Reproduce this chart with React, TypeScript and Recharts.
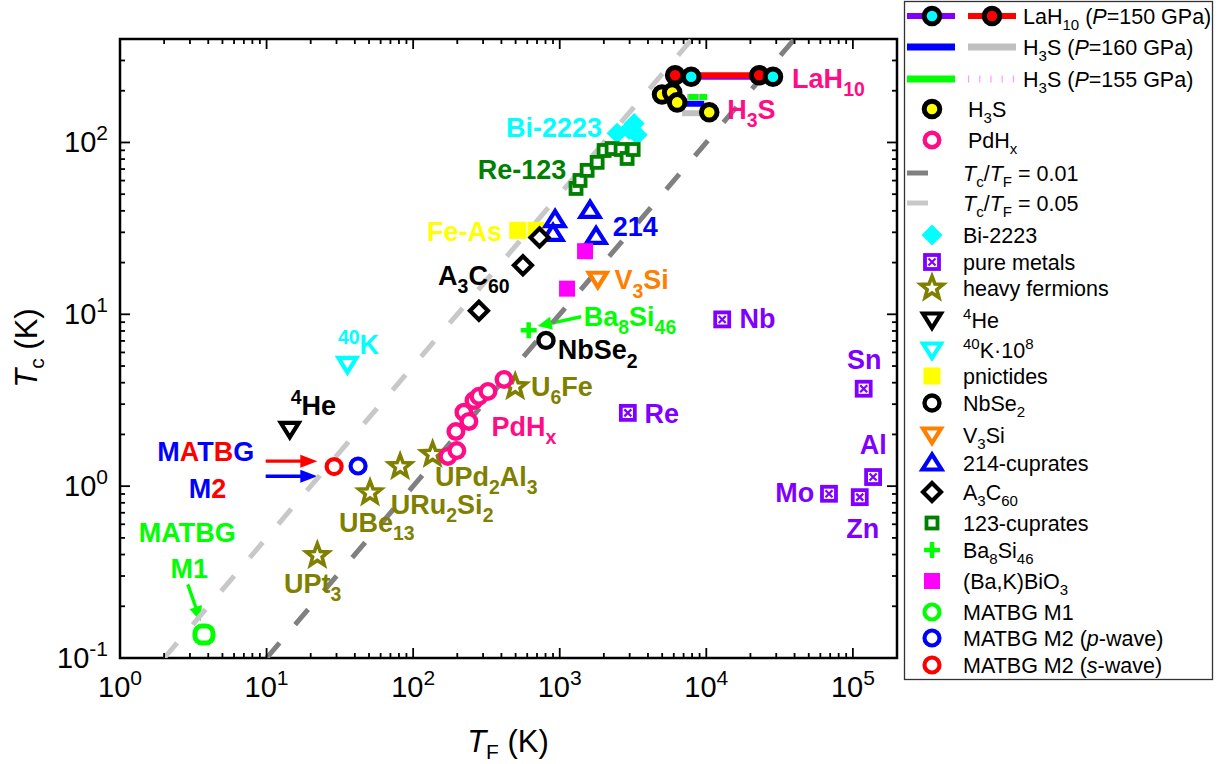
import React from 'react'
import { ScatterChart, Scatter, XAxis, YAxis, ReferenceLine, ReferenceArea } from 'recharts'

type Pt = { tf: number; tc: number }
type Seg = { t: string; s?: 'sub' | 'sup'; i?: boolean; c?: string }

// ---- data: Fermi temperature T_F (K) vs critical temperature T_c (K) ----
const LAH10_RED: Pt[] = [{ tf: 6130, tc: 246 }, { tf: 22960, tc: 246 }]
const LAH10_CYAN: Pt[] = [{ tf: 7890, tc: 241 }, { tf: 28500, tc: 241 }]
const H3S_160_BLUE: Pt[] = [{ tf: 7060, tc: 168 }, { tf: 9680, tc: 168 }]
const H3S_160_GREY: Pt[] = [{ tf: 6840, tc: 148 }, { tf: 9370, tc: 148 }]
const H3S_155_GREEN: Pt[] = [{ tf: 7410, tc: 184 }, { tf: 10140, tc: 184 }]
const H3S_155_PINK: Pt[] = [{ tf: 7410, tc: 184 }, { tf: 10140, tc: 184 }]
const H3S: Pt[] = [
  { tf: 4990, tc: 190 }, { tf: 5850, tc: 195 }, { tf: 6330, tc: 171 }, { tf: 10470, tc: 150 },
]
const RATIO_001: Pt[] = [{ tf: 10, tc: 0.1 }, { tf: 40000, tc: 400 }]
const RATIO_005: Pt[] = [{ tf: 2, tc: 0.1 }, { tf: 8000, tc: 400 }]
const BI2223: Pt[] = [
  { tf: 2462, tc: 113 }, { tf: 2974, tc: 119 }, { tf: 3220, tc: 129 }, { tf: 3375, tc: 111 },
]
const CUPRATES_123: Pt[] = [
  { tf: 1292, tc: 54 }, { tf: 1376, tc: 60.1 }, { tf: 1538, tc: 68.8 }, { tf: 1800, tc: 76.6 },
  { tf: 2008, tc: 89.8 }, { tf: 2277, tc: 92.2 }, { tf: 2622, tc: 91 }, { tf: 2882, tc: 80.7 },
  { tf: 3170, tc: 91 },
]
const PNICTIDES: Pt[] = [{ tf: 517, tc: 30.8 }, { tf: 689, tc: 30.8 }]
const CUPRATES_214: Pt[] = [
  { tf: 929, tc: 35.6 }, { tf: 900, tc: 29.6 }, { tf: 1610, tc: 40.3 }, { tf: 1770, tc: 28.4 },
]
const A3C60: Pt[] = [{ tf: 728, tc: 28 }, { tf: 561, tc: 19.3 }, { tf: 281, tc: 10.5 }]
const BKBO: Pt[] = [{ tf: 1489, tc: 23.3 }, { tf: 1122, tc: 14.1 }]
const V3SI: Pt[] = [{ tf: 1819, tc: 16 }]
const BA8SI46: Pt[] = [{ tf: 614, tc: 8.09 }]
const NBSE2: Pt[] = [{ tf: 806, tc: 7.05 }]
const HEAVY_FERMIONS: Pt[] = [
  { tf: 22.2, tc: 0.395 }, { tf: 50.8, tc: 0.915 }, { tf: 81.5, tc: 1.3 },
  { tf: 135.8, tc: 1.53 }, { tf: 497, tc: 3.79 },
]
const PDHX: Pt[] = [
  { tf: 172.6, tc: 1.49 }, { tf: 198.7, tc: 1.61 }, { tf: 195.8, tc: 2.08 }, { tf: 222, tc: 2.69 },
  { tf: 240, tc: 2.38 }, { tf: 260, tc: 3.15 }, { tf: 281, tc: 3.33 }, { tf: 324, tc: 3.56 },
  { tf: 417, tc: 4.18 },
]
const HE4: Pt[] = [{ tf: 14.4, tc: 2.14 }]
const K40: Pt[] = [{ tf: 35.6, tc: 5.11 }]
const PURE_METALS: Pt[] = [
  { tf: 12840, tc: 9.34 }, { tf: 2915, tc: 2.67 }, { tf: 118500, tc: 3.69 },
  { tf: 137400, tc: 1.13 }, { tf: 68700, tc: 0.903 }, { tf: 111400, tc: 0.863 },
]
const MATBG_M1: Pt[] = [{ tf: 3.74, tc: 0.137 }]
const MATBG_M2_P: Pt[] = [{ tf: 42.1, tc: 1.31 }]
const MATBG_M2_S: Pt[] = [{ tf: 28.9, tc: 1.3 }]

// axes
const X_DOMAIN = [1, 200000]
const Y_DOMAIN = [0.1, 400]
const X_DECADES = [1, 10, 100, 1000, 10000, 100000]
const X_EXPONENTS = ['0', '1', '2', '3', '4', '5']
const Y_DECADES = [0.1, 1, 10, 100]
const Y_EXPONENTS = ['-1', '0', '1', '2']
const MINOR_STEPS = [2, 3, 4, 5, 6, 7, 8, 9]

const W = 1222
const H = 764
const MARGIN = { top: 39, right: 325, bottom: 46, left: 60 }
const PLOT_TOP = MARGIN.top
const PLOT_RIGHT = W - MARGIN.right

const RED = '#ff0000'
const CYAN = '#00ffff'
const PURPLE = '#8000ff'
const BLUE = '#0000ff'
const GREY = '#c0c0c0'
const GREEN = '#00ff00'
const PINK = '#ff0d86'
const YELLOW = '#ffff00'
const OLIVE = '#808000'
const DKGREEN = '#008000'
const MAGENTA = '#ff00ff'
const ORANGE = '#ff8000'
const DASH_DARK = '#808080'
const DASH_LIGHT = '#c8c8c8'

const SANS = "'Liberation Sans', Arial, Helvetica, sans-serif"
const NARROW = "'Liberation Sans Narrow', 'Liberation Sans', Arial, sans-serif"

const X_TICKS = X_DECADES.flatMap(d => [d, ...MINOR_STEPS.map(m => m * d)]).filter(v => v < X_DOMAIN[1])
const Y_TICKS = Y_DECADES.flatMap(d => [d, ...MINOR_STEPS.map(m => m * d)]).filter(v => v < Y_DOMAIN[1])

// text labels inside the plot, anchored in data space
const MATBG_MULTI: Seg[] = [
  { t: 'M', c: BLUE }, { t: 'A', c: RED }, { t: 'T', c: BLUE }, { t: 'B', c: RED }, { t: 'G', c: BLUE },
]
const ANNOTATIONS = [
  { tf: 38500, tc: 207, color: PINK, parts: [{ t: 'LaH' }, { t: '10', s: 'sub' }] },
  { tf: 13900, tc: 136.7, color: PINK, parts: [{ t: 'H' }, { t: '3', s: 'sub' }, { t: 'S' }] },
  { tf: 430, tc: 108, color: CYAN, parts: [{ t: 'Bi-2223' }] },
  { tf: 1109, tc: 61, color: DKGREEN, parts: [{ t: 'Re-123' }], anchor: 'end' },
  { tf: 404, tc: 26.8, color: YELLOW, parts: [{ t: 'Fe-As' }], anchor: 'end' },
  { tf: 2297, tc: 28.7, color: BLUE, parts: [{ t: '214' }] },
  { tf: 148, tc: 14.9, color: '#000', parts: [{ t: 'A' }, { t: '3', s: 'sub' }, { t: 'C' }, { t: '60', s: 'sub' }] },
  { tf: 2360, tc: 13.96, color: ORANGE, parts: [{ t: 'V' }, { t: '3', s: 'sub' }, { t: 'Si' }] },
  { tf: 1459, tc: 8.54, color: GREEN, parts: [{ t: 'Ba' }, { t: '8', s: 'sub' }, { t: 'Si' }, { t: '46', s: 'sub' }] },
  { tf: 969, tc: 5.46, color: '#000', parts: [{ t: 'NbSe' }, { t: '2', s: 'sub' }] },
  { tf: 16860, tc: 8.28, color: PURPLE, parts: [{ t: 'Nb' }] },
  { tf: 91200, tc: 4.78, color: PURPLE, parts: [{ t: 'Sn' }] },
  { tf: 3784, tc: 2.34, color: PURPLE, parts: [{ t: 'Re' }] },
  { tf: 111400, tc: 1.53, color: PURPLE, parts: [{ t: 'Al' }] },
  { tf: 29560, tc: 0.807, color: PURPLE, parts: [{ t: 'Mo' }] },
  { tf: 90100, tc: 0.502, color: PURPLE, parts: [{ t: 'Zn' }] },
  { tf: 637, tc: 3.34, color: OLIVE, parts: [{ t: 'U' }, { t: '6', s: 'sub' }, { t: 'Fe' }] },
  { tf: 343, tc: 1.95, color: PINK, parts: [{ t: 'PdH' }, { t: 'x', s: 'sub' }] },
  { tf: 141, tc: 1.0, color: OLIVE, parts: [{ t: 'UPd' }, { t: '2', s: 'sub' }, { t: 'Al' }, { t: '3', s: 'sub' }] },
  { tf: 70.4, tc: 0.685, color: OLIVE, parts: [{ t: 'URu' }, { t: '2', s: 'sub' }, { t: 'Si' }, { t: '2', s: 'sub' }] },
  { tf: 31.2, tc: 0.54, color: OLIVE, parts: [{ t: 'UBe' }, { t: '13', s: 'sub' }] },
  { tf: 13.15, tc: 0.2395, color: OLIVE, parts: [{ t: 'UPt' }, { t: '3', s: 'sub' }] },
  { tf: 14.6, tc: 2.61, color: '#000', parts: [{ t: '4', s: 'sup' }, { t: 'He' }] },
  { tf: 30.7, tc: 5.84, color: CYAN, parts: [{ t: '40', s: 'sup' }, { t: 'K' }] },
  { tf: 1.795, tc: 1.398, color: BLUE, parts: MATBG_MULTI },
  { tf: 2.95, tc: 0.856, color: BLUE, parts: [{ t: 'M', c: BLUE }, { t: '2', c: RED }] },
  { tf: 1.344, tc: 0.475, color: GREEN, parts: [{ t: 'MATBG' }] },
  { tf: 2.213, tc: 0.293, color: GREEN, parts: [{ t: 'M1' }] },
]

const ARROWS = [
  { from: { tf: 9.86, tc: 1.398 }, to: { tf: 22.2, tc: 1.398 }, color: RED, head: 17 },
  { from: { tf: 9.86, tc: 1.143 }, to: { tf: 22.2, tc: 1.143 }, color: BLUE, head: 17 },
  { from: { tf: 2.9, tc: 0.268 }, to: { tf: 3.55, tc: 0.1637 }, color: GREEN, head: 15 },
  { from: { tf: 1399, tc: 9.68 }, to: { tf: 708, tc: 8.54 }, color: GREEN, head: 14 },
]

// ---- marker shapes ----
function starPath(cx: number, cy: number, R: number, r: number) {
  let d = ''
  for (let i = 0; i < 10; i++) {
    const a = -Math.PI / 2 + (i * Math.PI) / 5
    const rad = i % 2 === 0 ? R : r
    d += (i === 0 ? 'M' : 'L') + (cx + rad * Math.cos(a)).toFixed(2) + ',' + (cy + rad * Math.sin(a)).toFixed(2)
  }
  return d + 'Z'
}
const triDown = (cx: number, cy: number, color: string) => (
  <polygon
    points={`${cx - 9},${cy - 6.5} ${cx + 9},${cy - 6.5} ${cx},${cy + 8}`}
    fill="#fff" stroke={color} strokeWidth={4.2} strokeLinejoin="miter"
  />
)
const ringed = (cx: number, cy: number, fill: string) => (
  <circle cx={cx} cy={cy} r={7.8} fill={fill} stroke="#000" strokeWidth={5} />
)

const MARKERS: Record<string, (cx: number, cy: number) => React.ReactElement> = {
  lahRed: (cx, cy) => ringed(cx, cy, RED),
  lahCyan: (cx, cy) => ringed(cx, cy, CYAN),
  h3s: (cx, cy) => ringed(cx, cy, YELLOW),
  pdhx: (cx, cy) => <circle cx={cx} cy={cy} r={7.3} fill="#fff" stroke={PINK} strokeWidth={4.4} />,
  bi2223: (cx, cy) => (
    <polygon points={`${cx},${cy - 10.5} ${cx + 10.5},${cy} ${cx},${cy + 10.5} ${cx - 10.5},${cy}`} fill={CYAN} />
  ),
  metal: (cx, cy) => (
    <g>
      <rect x={cx - 7} y={cy - 7} width={14} height={14} fill="#fff" stroke={PURPLE} strokeWidth={3.8} />
      <path d={`M${cx - 3.5},${cy - 3.5}L${cx + 3.5},${cy + 3.5}M${cx + 3.5},${cy - 3.5}L${cx - 3.5},${cy + 3.5}`}
        stroke={PURPLE} strokeWidth={2.2} />
    </g>
  ),
  star: (cx, cy) => (
    <path d={starPath(cx, cy, 11.8, 5)} fill="#fff" stroke={OLIVE} strokeWidth={3.6} strokeLinejoin="miter" />
  ),
  he4: (cx, cy) => triDown(cx, cy, '#000'),
  k40: (cx, cy) => triDown(cx, cy, CYAN),
  v3si: (cx, cy) => triDown(cx, cy, ORANGE),
  pnictide: (cx, cy) => <rect x={cx - 8.5} y={cy - 8.5} width={17} height={17} fill={YELLOW} />,
  nbse2: (cx, cy) => <circle cx={cx} cy={cy} r={7.5} fill="#fff" stroke="#000" strokeWidth={4.4} />,
  c214: (cx, cy) => (
    <polygon
      points={`${cx},${cy - 8.5} ${cx - 9.5},${cy + 6.5} ${cx + 9.5},${cy + 6.5}`}
      fill="#fff" stroke={BLUE} strokeWidth={4.2} strokeLinejoin="miter"
    />
  ),
  a3c60: (cx, cy) => (
    <polygon points={`${cx},${cy - 9} ${cx + 9},${cy} ${cx},${cy + 9} ${cx - 9},${cy}`}
      fill="#fff" stroke="#000" strokeWidth={4.2} />
  ),
  c123: (cx, cy) => (
    <rect x={cx - 5.5} y={cy - 5.5} width={11} height={11} fill="#fff" stroke={DKGREEN} strokeWidth={3.8} />
  ),
  ba8si46: (cx, cy) => (
    <path d={`M${cx - 8},${cy}L${cx + 8},${cy}M${cx},${cy - 8}L${cx},${cy + 8}`} stroke={GREEN} strokeWidth={4.5} />
  ),
  bkbo: (cx, cy) => <rect x={cx - 8} y={cy - 8} width={16} height={16} fill={MAGENTA} />,
  m1: (cx, cy) => <rect x={cx - 9} y={cy - 8.5} width={18} height={17} rx={7} fill="#fff" stroke={GREEN} strokeWidth={5} />,
  m2p: (cx, cy) => <circle cx={cx} cy={cy} r={7.5} fill="#fff" stroke={BLUE} strokeWidth={4.2} />,
  m2s: (cx, cy) => <circle cx={cx} cy={cy} r={7.5} fill="#fff" stroke={RED} strokeWidth={4.2} />,
  m1Legend: (cx, cy) => <circle cx={cx} cy={cy} r={7.5} fill="#fff" stroke={GREEN} strokeWidth={4.2} />,
}

const SERIES = [
  { name: 'Bi-2223', data: BI2223, marker: 'bi2223' },
  { name: '123-cuprates', data: CUPRATES_123, marker: 'c123' },
  { name: 'pnictides', data: PNICTIDES, marker: 'pnictide' },
  { name: '214-cuprates', data: CUPRATES_214, marker: 'c214' },
  { name: 'A3C60', data: A3C60, marker: 'a3c60' },
  { name: '(Ba,K)BiO3', data: BKBO, marker: 'bkbo' },
  { name: 'V3Si', data: V3SI, marker: 'v3si' },
  { name: 'Ba8Si46', data: BA8SI46, marker: 'ba8si46' },
  { name: 'NbSe2', data: NBSE2, marker: 'nbse2' },
  { name: 'heavy fermions', data: HEAVY_FERMIONS, marker: 'star' },
  { name: 'PdHx', data: PDHX, marker: 'pdhx' },
  { name: '4He', data: HE4, marker: 'he4' },
  { name: '40K', data: K40, marker: 'k40' },
  { name: 'pure metals', data: PURE_METALS, marker: 'metal' },
  { name: 'MATBG M1', data: MATBG_M1, marker: 'm1' },
  { name: 'MATBG M2 p', data: MATBG_M2_P, marker: 'm2p' },
  { name: 'MATBG M2 s', data: MATBG_M2_S, marker: 'm2s' },
  { name: 'H3S', data: H3S, marker: 'h3s' },
]

// ---- legend ----
const sub = (t: string): Seg => ({ t, s: 'sub' })
const sup = (t: string): Seg => ({ t, s: 'sup' })
const LEGEND_ROWS: { key: string; label: Seg[] }[] = [
  { key: 'lah10', label: [{ t: 'LaH' }, sub('10'), { t: ' (' }, { t: 'P', i: true }, { t: '=150 GPa)' }] },
  { key: 'h3s160', label: [{ t: 'H' }, sub('3'), { t: 'S (' }, { t: 'P', i: true }, { t: '=160 GPa)' }] },
  { key: 'h3s155', label: [{ t: 'H' }, sub('3'), { t: 'S (' }, { t: 'P', i: true }, { t: '=155 GPa)' }] },
  { key: 'h3s', label: [{ t: 'H' }, sub('3'), { t: 'S' }] },
  { key: 'pdhx', label: [{ t: 'PdH' }, sub('x')] },
  { key: 'r001', label: [{ t: 'T', i: true }, sub('c'), { t: '/' }, { t: 'T', i: true }, sub('F'), { t: ' = 0.01' }] },
  { key: 'r005', label: [{ t: 'T', i: true }, sub('c'), { t: '/' }, { t: 'T', i: true }, sub('F'), { t: ' = 0.05' }] },
  { key: 'bi2223', label: [{ t: 'Bi-2223' }] },
  { key: 'metal', label: [{ t: 'pure metals' }] },
  { key: 'star', label: [{ t: 'heavy fermions' }] },
  { key: 'he4', label: [sup('4'), { t: 'He' }] },
  { key: 'k40', label: [sup('40'), { t: 'K\u00b710' }, sup('8')] },
  { key: 'pnictide', label: [{ t: 'pnictides' }] },
  { key: 'nbse2', label: [{ t: 'NbSe' }, sub('2')] },
  { key: 'v3si', label: [{ t: 'V' }, sub('3'), { t: 'Si' }] },
  { key: 'c214', label: [{ t: '214-cuprates' }] },
  { key: 'a3c60', label: [{ t: 'A' }, sub('3'), { t: 'C' }, sub('60')] },
  { key: 'c123', label: [{ t: '123-cuprates' }] },
  { key: 'ba8si46', label: [{ t: 'Ba' }, sub('8'), { t: 'Si' }, sub('46')] },
  { key: 'bkbo', label: [{ t: '(Ba,K)BiO' }, sub('3')] },
  { key: 'm1Legend', label: [{ t: 'MATBG M1' }] },
  { key: 'm2p', label: [{ t: 'MATBG M2 (' }, { t: 'p', i: true }, { t: '-wave)' }] },
  { key: 'm2s', label: [{ t: 'MATBG M2 (' }, { t: 's', i: true }, { t: '-wave)' }] },
]
const LEGEND_ROW_Y = [16, 47, 79, 109, 140, 173, 203, 235, 262, 288, 320, 350, 376, 403, 435, 463, 492, 523, 550, 581, 612, 638, 665]

function RichText(props: {
  x: number; y: number; parts: Seg[]; size: number; color: string
  anchor?: 'start' | 'middle' | 'end'; weight?: string | number; family?: string; subScale?: number
}) {
  const { x, y, parts, size, color, anchor = 'start', weight = 'normal', family = SANS, subScale = 0.7 } = props
  let cur = 0
  return (
    <text x={x} y={y} fontSize={size} fontFamily={family} fontWeight={weight} fill={color} textAnchor={anchor}>
      {parts.map((p, i) => {
        const off = p.s === 'sub' ? size * 0.3 : p.s === 'sup' ? -size * 0.38 : 0
        const dy = off - cur
        cur = off
        return (
          <tspan key={i} dy={dy} fontSize={p.s ? size * subScale : size}
            fontStyle={p.i ? 'italic' : undefined} fill={p.c ?? color}>
            {p.t}
          </tspan>
        )
      })}
    </text>
  )
}

const XTick = (props: any) => {
  const { x, y, payload } = props
  const di = X_DECADES.indexOf(payload.value)
  const len = di >= 0 ? 10 : 5
  return (
    <g>
      <line x1={x} x2={x} y1={y} y2={y - len} stroke="#000" strokeWidth={1.8} />
      <line x1={x} x2={x} y1={PLOT_TOP} y2={PLOT_TOP + len} stroke="#000" strokeWidth={1.8} />
      {di >= 0 && (
        <text x={x} y={y + 39} textAnchor="middle" fontFamily={NARROW} fontSize={29} fill="#000">
          10<tspan dy={-12} fontSize={21}>{X_EXPONENTS[di]}</tspan>
        </text>
      )}
    </g>
  )
}

const YTick = (props: any) => {
  const { x, y, payload } = props
  const di = Y_DECADES.indexOf(payload.value)
  const len = di >= 0 ? 10 : 5
  return (
    <g>
      <line x1={x} x2={x + len} y1={y} y2={y} stroke="#000" strokeWidth={1.8} />
      <line x1={PLOT_RIGHT} x2={PLOT_RIGHT - len} y1={y} y2={y} stroke="#000" strokeWidth={1.8} />
      {di >= 0 && (
        <text x={x - 12} y={y + 10} textAnchor="end" fontFamily={NARROW} fontSize={29} fill="#000">
          10<tspan dy={-12} fontSize={21}>{Y_EXPONENTS[di]}</tspan>
        </text>
      )}
    </g>
  )
}

const arrowShape = (color: string, head: number) => (p: any) => {
  const { x1, y1, x2, y2 } = p
  const a = Math.atan2(y2 - y1, x2 - x1)
  const c = Math.cos(a)
  const s = Math.sin(a)
  const bx = x2 - head * c
  const by = y2 - head * s
  const hw = 6.5
  return (
    <g>
      <line x1={x1} y1={y1} x2={bx + c} y2={by + s} stroke={color} strokeWidth={3.4} />
      <polygon points={`${x2},${y2} ${bx - hw * s},${by + hw * c} ${bx + hw * s},${by - hw * c}`} fill={color} />
    </g>
  )
}

const noMarker = () => <g />

function LegendSample({ k, cy }: { k: string; cy: number }) {
  const L1 = [907, 955]
  const L2 = [968, 1016]
  const mx = 932
  const seg = (xs: number[], color: string, w: number, dash?: string) => (
    <line x1={xs[0]} x2={xs[1]} y1={cy} y2={cy} stroke={color} strokeWidth={w} strokeDasharray={dash} />
  )
  if (k === 'lah10')
    return (
      <g>
        {seg(L1, PURPLE, 6)}
        {MARKERS.lahCyan(mx, cy)}
        {seg(L2, RED, 6)}
        {MARKERS.lahRed(992, cy)}
      </g>
    )
  if (k === 'h3s160') return <g>{seg(L1, BLUE, 7)}{seg(L2, GREY, 7)}</g>
  if (k === 'h3s155') return <g>{seg(L1, GREEN, 7)}{seg(L2, '#ff99ff', 7, '1.2 10')}</g>
  if (k === 'r001') return seg([907, 928], DASH_DARK, 5)
  if (k === 'r005') return seg([907, 928], DASH_LIGHT, 5)
  return MARKERS[k](mx, cy)
}

function LegendBox() {
  return (
    <g>
      <rect x={904.5} y={1.5} width={308} height={678} fill="#fff" stroke="#333" strokeWidth={1.3} />
      {LEGEND_ROWS.map((row, i) => {
        const cy = LEGEND_ROW_Y[i]
        const tx = i < 3 ? 1023 : i < 5 ? 968 : 963
        return (
          <g key={row.key}>
            <LegendSample k={row.key} cy={cy} />
            <RichText x={tx} y={cy + 7.5} parts={row.label} size={21.5} color="#000" subScale={0.7} />
          </g>
        )
      })}
    </g>
  )
}

export default function App() {
  return (
    <div style={{ position: 'absolute', left: 0, top: 0, width: W, height: H, background: '#fff' }}>
      <ScatterChart width={W} height={H} margin={MARGIN}>
        <XAxis
          type="number" dataKey="tf" scale="log" domain={X_DOMAIN} allowDataOverflow
          ticks={X_TICKS} interval={0} tick={XTick} tickLine={false} tickSize={0} tickMargin={0}
          axisLine={false} height={60}
        />
        <YAxis
          type="number" dataKey="tc" scale="log" domain={Y_DOMAIN} allowDataOverflow
          ticks={Y_TICKS} interval={0} tick={YTick} tickLine={false} tickSize={0} tickMargin={0}
          axisLine={false} width={60}
        />
        <ReferenceArea x1={X_DOMAIN[0]} x2={X_DOMAIN[1]} y1={Y_DOMAIN[0]} y2={Y_DOMAIN[1]}
          fill="none" stroke="#000" strokeWidth={2.5} ifOverflow="visible" />

        <Scatter name="Tc/TF = 0.05" data={RATIO_005} fill="none" shape={noMarker} isAnimationActive={false}
          line={{ stroke: DASH_LIGHT, strokeWidth: 5, strokeDasharray: '20 24' }} />
        <Scatter name="Tc/TF = 0.01" data={RATIO_001} fill="none" shape={noMarker} isAnimationActive={false}
          line={{ stroke: DASH_DARK, strokeWidth: 5, strokeDasharray: '20 24' }} />

        <Scatter name="LaH10 purple" data={LAH10_CYAN} fill="none" shape={noMarker} isAnimationActive={false}
          line={{ stroke: PURPLE, strokeWidth: 6 }} />
        <Scatter name="H3S 160 grey" data={H3S_160_GREY} fill="none" shape={noMarker} isAnimationActive={false}
          line={{ stroke: GREY, strokeWidth: 6 }} />
        <Scatter name="H3S 160 blue" data={H3S_160_BLUE} fill="none" shape={noMarker} isAnimationActive={false}
          line={{ stroke: BLUE, strokeWidth: 6 }} />
        <Scatter name="H3S 155 green" data={H3S_155_GREEN} fill="none" shape={noMarker} isAnimationActive={false}
          line={{ stroke: GREEN, strokeWidth: 6 }} />
        <Scatter name="H3S 155 pink" data={H3S_155_PINK} fill="none" shape={noMarker} isAnimationActive={false}
          line={{ stroke: '#ff99ff', strokeWidth: 6, strokeDasharray: '1.2 10' }} />
        <Scatter name="LaH10 red" data={LAH10_RED} fill={RED} isAnimationActive={false}
          line={{ stroke: RED, strokeWidth: 6 }} shape={(p: any) => MARKERS.lahRed(p.cx, p.cy)} />
        <Scatter name="LaH10 cyan" data={LAH10_CYAN} fill={CYAN} isAnimationActive={false}
          shape={(p: any) => MARKERS.lahCyan(p.cx, p.cy)} />

        {SERIES.map(s => (
          <Scatter key={s.name} name={s.name} data={s.data} fill="#000" isAnimationActive={false}
            shape={(p: any) => MARKERS[s.marker](p.cx, p.cy)} />
        ))}

        {ARROWS.map((a, i) => (
          <ReferenceLine key={i} segment={[{ x: a.from.tf, y: a.from.tc }, { x: a.to.tf, y: a.to.tc }]}
            ifOverflow="visible" shape={arrowShape(a.color, a.head)} />
        ))}

        <Scatter name="labels" data={ANNOTATIONS} fill="none" isAnimationActive={false}
          shape={(p: any) => (
            <RichText x={p.cx} y={p.cy} parts={p.payload.parts} size={27} weight="bold"
              color={p.payload.color} anchor={p.payload.anchor ?? 'start'} subScale={0.72} />
          )} />
      </ScatterChart>

      <svg width={W} height={H} style={{ position: 'absolute', left: 0, top: 0, pointerEvents: 'none' }}>
        <text x={508} y={752} textAnchor="middle" fontFamily={NARROW} fontSize={31} fill="#000">
          <tspan fontStyle="italic">T</tspan>
          <tspan dy={7} fontSize={21}>F</tspan>
          <tspan dy={-7}> (K)</tspan>
        </text>
        <text transform="rotate(-90)" x={-348} y={37} textAnchor="middle" fontFamily={NARROW} fontSize={31} fill="#000">
          <tspan fontStyle="italic">T</tspan>
          <tspan dy={7} fontSize={21}>c</tspan>
          <tspan dy={-7}> (K)</tspan>
        </text>
        <LegendBox />
      </svg>
    </div>
  )
}
